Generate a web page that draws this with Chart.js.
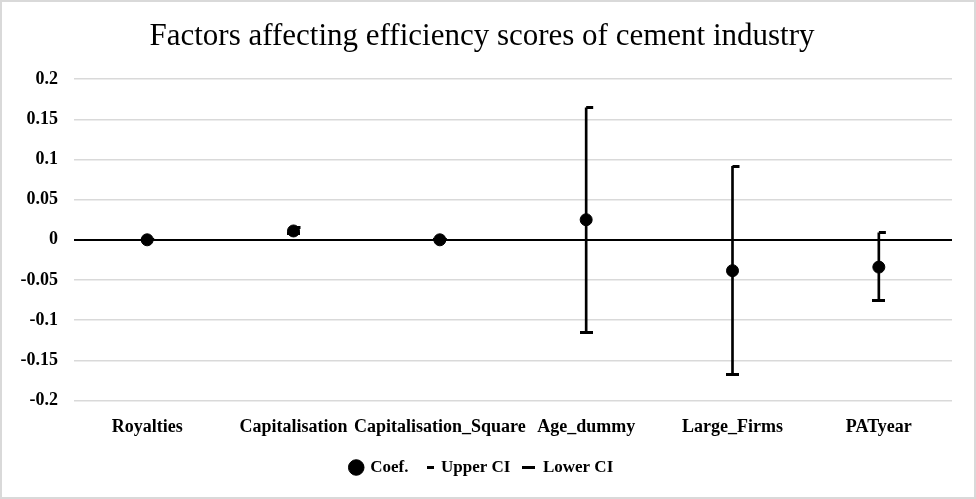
<!DOCTYPE html>
<html>
<head>
<meta charset="utf-8">
<script src="https://cdn.jsdelivr.net/npm/chart.js@4/dist/chart.umd.min.js"></script>
<style>
  html, body { margin: 0; padding: 0; background: #fff; }
  #wrap { position: relative; width: 972px; height: 495px; border: 2px solid #d9d9d9; }
</style>
</head>
<body>
<div id="wrap"><canvas id="ci-chart"></canvas></div>
<script>
const categories = ['Royalties', 'Capitalisation', 'Capitalisation_Square', 'Age_dummy', 'Large_Firms', 'PATyear'];
const coef    = [0, 0.011, 0, 0.025, -0.0385, -0.034];
const upperCI = [0, 0.015, 0, 0.1645, 0.0915, 0.0087];
const lowerCI = [0, 0.008, 0, -0.1155, -0.168, -0.0755];
const yTicks  = [0.2, 0.15, 0.1, 0.05, 0, -0.05, -0.1, -0.15, -0.2];

const FONT = '"Liberation Serif", "DejaVu Serif", serif';

// little dash markers like the excel stock chart
function dash(w, h, x0, len) {
  const c = document.createElement('canvas');
  c.width = w; c.height = h;
  const g = c.getContext('2d');
  g.fillStyle = '#000';
  g.fillRect(x0, 0, len, h);
  return c;
}
const upperMark = dash(16, 3, 8, 7);
const lowerMark = dash(13, 3, 0, 13);

const ctx = document.getElementById('ci-chart').getContext('2d');
new Chart(ctx, {
  data: {
    labels: categories,
    datasets: [
      {
        type: 'line', label: 'Coef.', data: coef, showLine: false,
        pointStyle: 'circle', pointRadius: 6, pointHoverRadius: 6,
        backgroundColor: '#000', borderColor: '#000', order: 0
      },
      {
        type: 'line', label: 'Upper CI', data: upperCI, showLine: false,
        pointStyle: upperMark, pointRadius: 4, order: 1,
        backgroundColor: '#000', borderColor: '#000'
      },
      {
        type: 'line', label: 'Lower CI', data: lowerCI, showLine: false,
        pointStyle: lowerMark, pointRadius: 4, order: 2,
        backgroundColor: '#000', borderColor: '#000'
      },
      {
        type: 'bar', label: 'range', order: 3,
        data: categories.map((c, i) => [lowerCI[i], upperCI[i]]),
        backgroundColor: '#000', barThickness: 2
      }
    ]
  },
  options: {
    responsive: true,
    maintainAspectRatio: false,
    animation: false,
    layout: { padding: { top: 4, right: 22, left: 10, bottom: 11 } },
    plugins: {
      title: {
        display: true,
        text: 'Factors affecting efficiency scores of cement industry',
        color: '#000',
        font: { family: FONT, size: 31, weight: 'normal' },
        padding: { top: 12, bottom: 24 }
      },
      legend: {
        position: 'bottom',
        labels: {
          usePointStyle: true,
          boxWidth: 11, boxHeight: 11,
          color: '#000',
          font: { family: FONT, size: 17, weight: 'bold' },
          padding: 13,
          filter: item => item.text !== 'range'
        }
      },
      tooltip: { enabled: false }
    },
    scales: {
      x: {
        offset: true,
        grid: { display: false },
        border: { display: false },
        ticks: { color: '#000', font: { family: FONT, size: 18, weight: 'bold' }, padding: 8, maxRotation: 0, autoSkip: false }
      },
      y: {
        min: -0.2, max: 0.2,
        afterBuildTicks: s => { s.ticks = yTicks.map(v => ({ value: v })); },
        afterFit: s => { s.width = 62; },
        border: { display: false },
        grid: {
          color: c => c.tick && c.tick.value === 0 ? '#000' : '#d9d9d9',
          lineWidth: c => c.tick && c.tick.value === 0 ? 2 : 1.5,
          drawTicks: false
        },
        ticks: {
          color: '#000', padding: 16,
          font: { family: FONT, size: 18, weight: 'bold' },
          callback: v => String(v)
        }
      }
    }
  }
});
</script>
</body>
</html>
